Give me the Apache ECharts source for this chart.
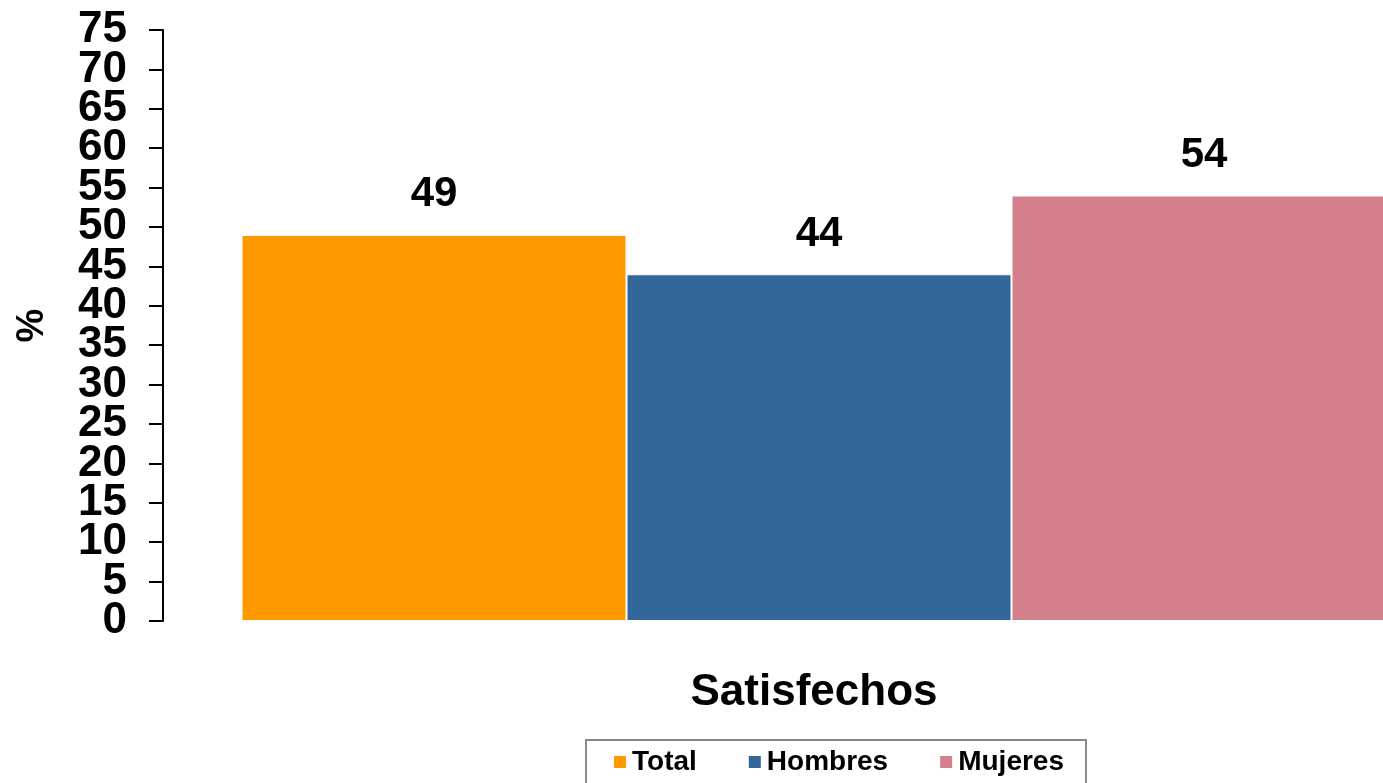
<!DOCTYPE html>
<html>
<head>
<meta charset="utf-8">
<script src="https://cdn.jsdelivr.net/npm/echarts@6/dist/echarts.min.js"></script>
<style>
  html, body { margin: 0; padding: 0; background: #fff; overflow: hidden; }
  #chart { width: 1475px; height: 783px; }
</style>
</head>
<body>
<div id="chart"></div>
<script>
// datos de la gráfica
var categories = ['Satisfechos'];
var seriesNames = ['Total', 'Hombres', 'Mujeres'];
var totalValues = [49];
var hombresValues = [44];
var mujeresValues = [54];
var colors = ['#FF9900', '#336699', '#D37F8C'];

var font = 'Liberation Sans, Arial, sans-serif';

// el lienzo es más ancho que la ventana: la última barra queda recortada como en el original
var chart = echarts.init(document.getElementById('chart'));

var yLabelStyle = {
  margin: 36,
  color: '#000',
  fontFamily: font,
  fontWeight: 'bold',
  fontSize: 44
};
var yTickStyle = { show: true, length: 14, lineStyle: { color: '#000', width: 2 } };

function makeSeries(name, data, color) {
  return {
    name: name,
    type: 'bar',
    data: data,
    barWidth: 385,
    barGap: 0,
    itemStyle: { color: color, borderColor: '#fff', borderWidth: 1 },
    label: {
      show: true,
      position: 'top',
      distance: 19,
      color: '#000',
      fontFamily: font,
      fontWeight: 'bold',
      fontSize: 42
    }
  };
}

var option = {
  backgroundColor: '#fff',
  animation: false,
  color: colors,
  grid: { left: 163, right: 0, top: 30, bottom: 162, containLabel: false },
  legend: {
    top: 740,
    left: 586,
    itemWidth: 14,
    itemHeight: 14,
    itemGap: 50,
    padding: [8, 22, 20, 26],
    borderColor: '#888',
    borderWidth: 2,
    icon: 'rect',
    textStyle: { color: '#000', fontFamily: font, fontWeight: 'bold', fontSize: 28 },
    data: seriesNames
  },
  xAxis: {
    type: 'category',
    data: categories,
    axisLine: { show: false },
    axisTick: { show: false },
    axisLabel: {
      margin: 50,
      padding: [0, 10, 0, 0],
      color: '#000',
      fontFamily: font,
      fontWeight: 'bold',
      fontSize: 44
    }
  },
  yAxis: [{
    type: 'value',
    min: 0,
    max: 75,
    interval: 5,
    name: '%',
    nameLocation: 'middle',
    nameGap: 111,
    nameTextStyle: { color: '#000', fontFamily: font, fontWeight: 'bold', fontSize: 38 },
    axisLine: { show: true, lineStyle: { color: '#000', width: 2 } },
    axisTick: yTickStyle,
    splitLine: { show: false },
    axisLabel: Object.assign({ showMinLabel: false, showMaxLabel: false }, yLabelStyle)
  }, {
    // solo 0 y 75, para que no se oculten las etiquetas vecinas
    type: 'value',
    position: 'left',
    min: 0,
    max: 75,
    interval: 75,
    axisLine: { show: false },
    axisTick: yTickStyle,
    splitLine: { show: false },
    axisLabel: yLabelStyle
  }],
  series: [
    makeSeries(seriesNames[0], totalValues, colors[0]),
    makeSeries(seriesNames[1], hombresValues, colors[1]),
    makeSeries(seriesNames[2], mujeresValues, colors[2])
  ]
};

chart.setOption(option);
</script>
</body>
</html>
